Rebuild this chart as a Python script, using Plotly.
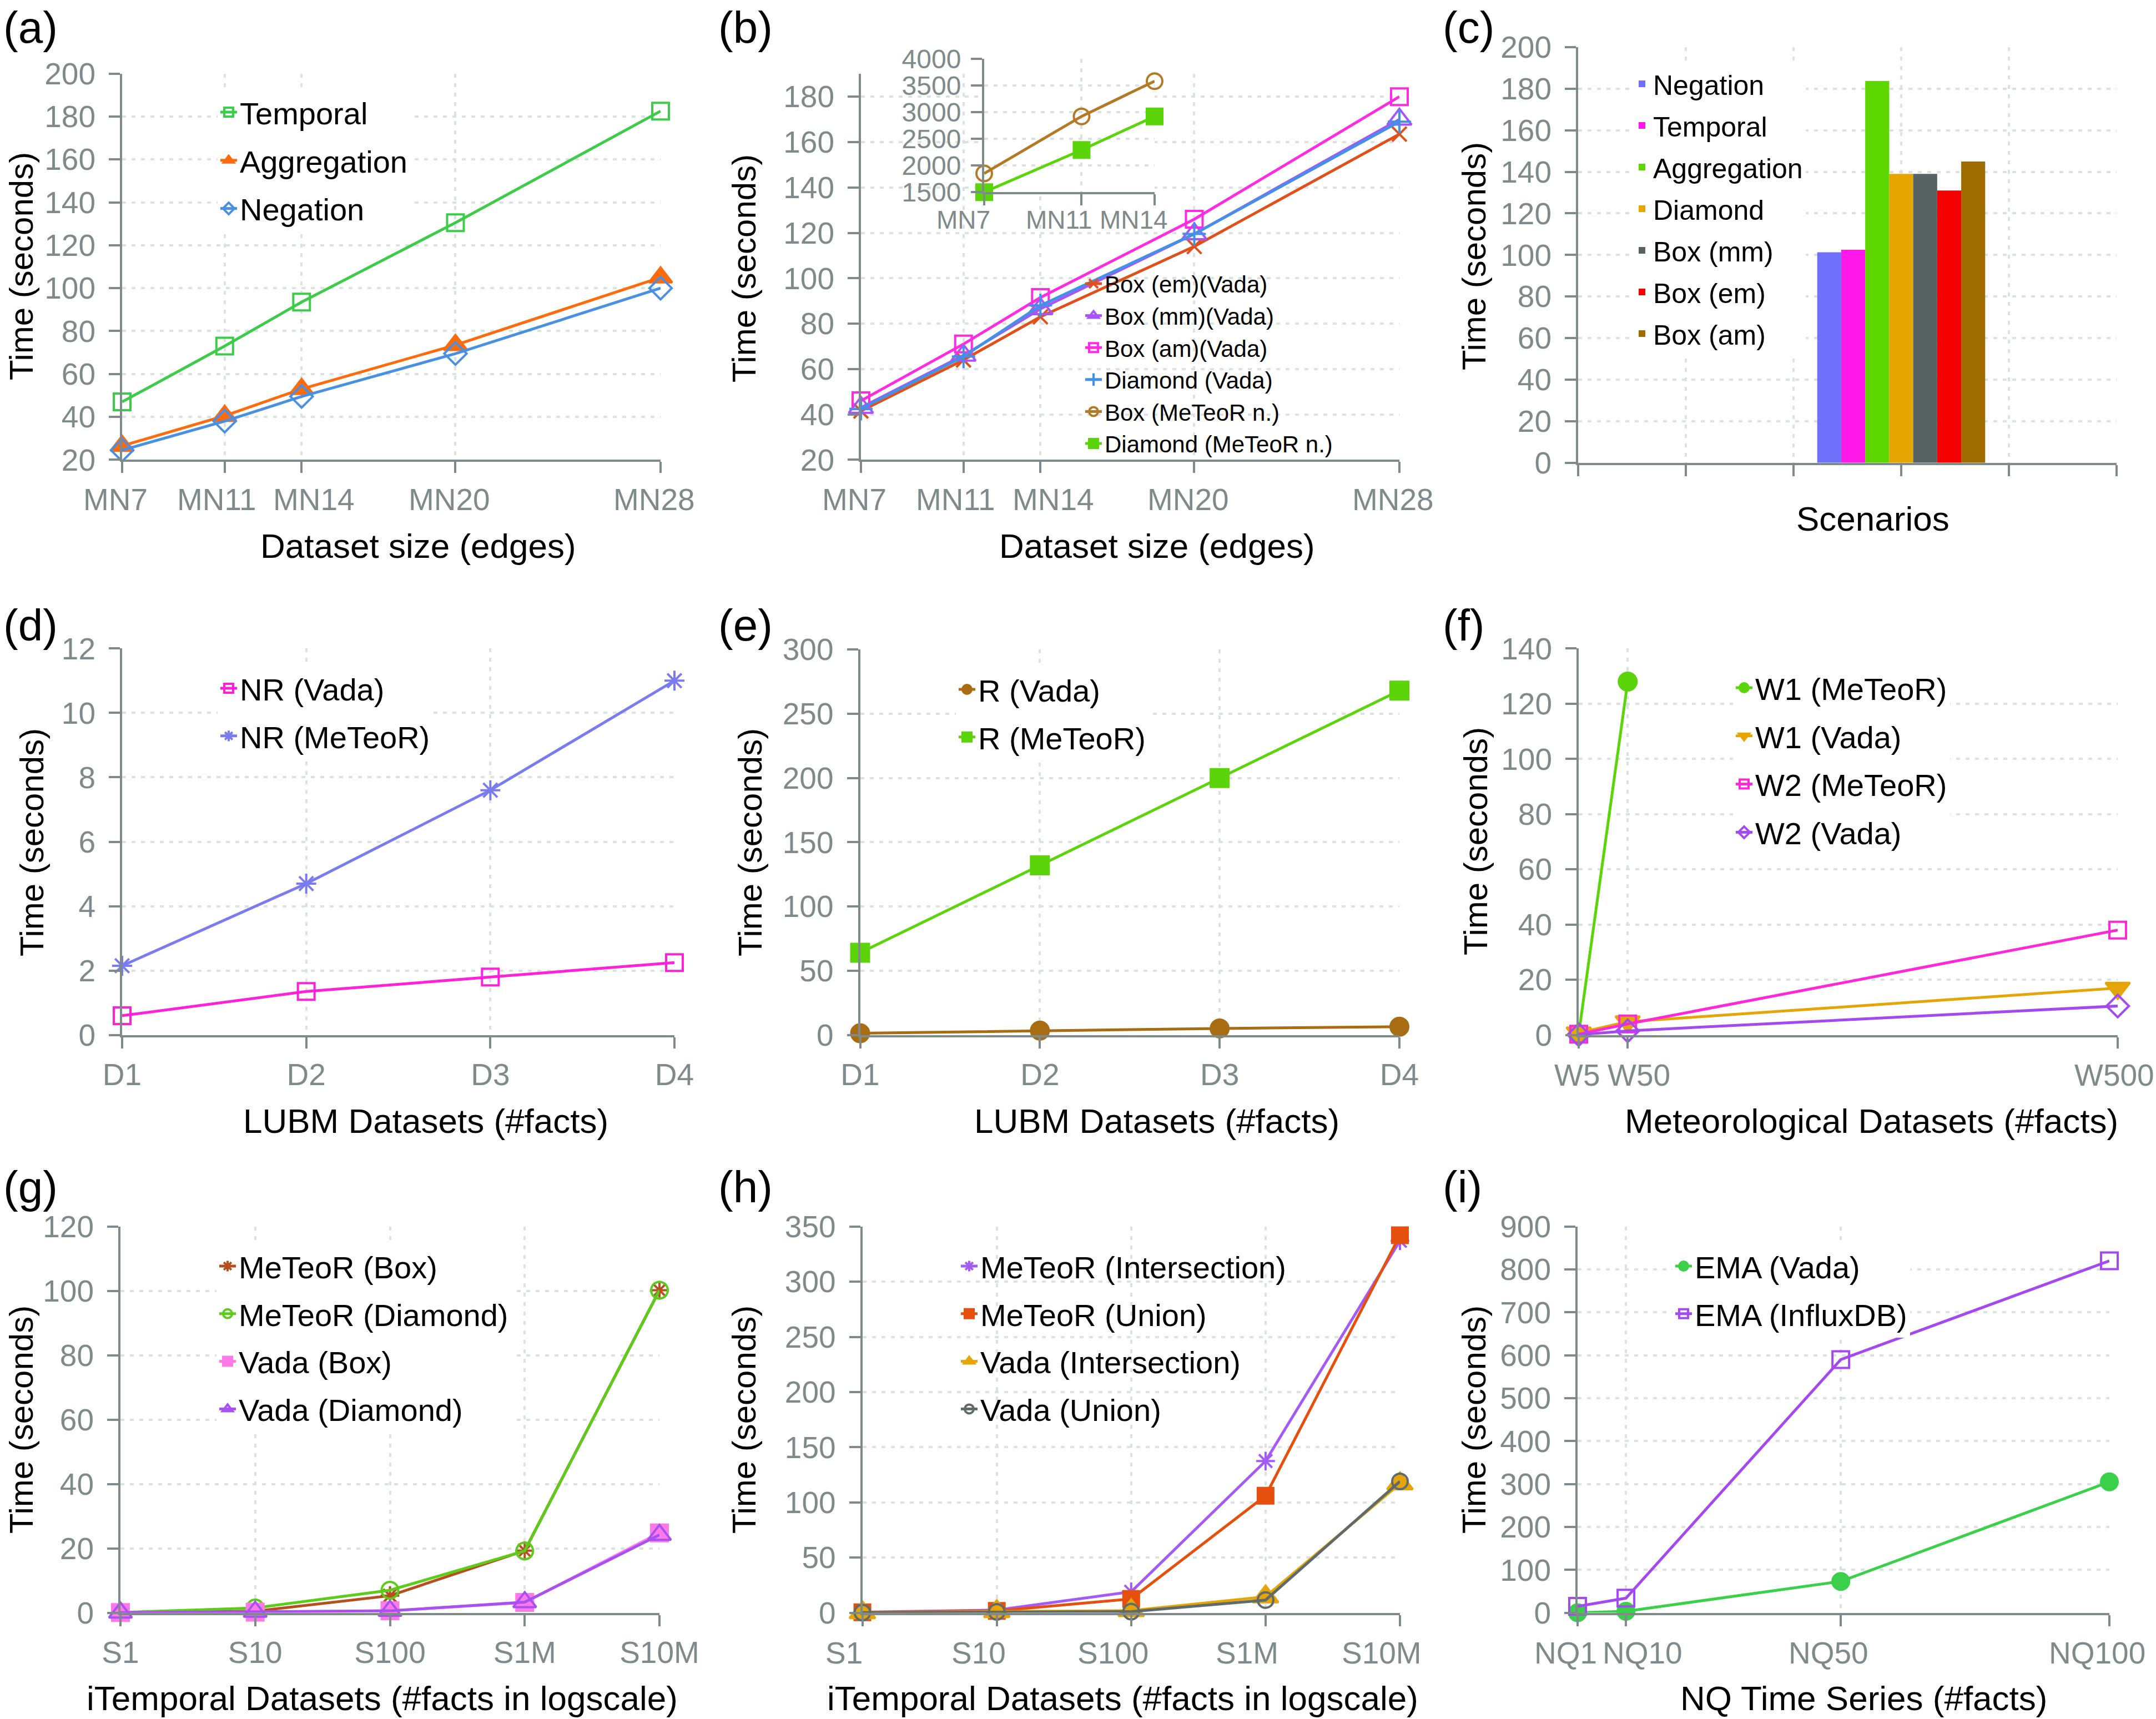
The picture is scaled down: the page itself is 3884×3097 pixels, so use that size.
import plotly.graph_objects as go

# ---------------- data ----------------
# (a)
a_x = [7, 11, 14, 20, 28]
a_xlabels = ["MN7", "MN11", "MN14", "MN20", "MN28"]
a_temporal = [47, 73, 93.5, 130.5, 182.5]
a_aggregation = [26.5, 40.5, 53, 73.5, 105]
a_negation = [24.5, 38, 49.5, 69.5, 100]

# (b)
b_x = [7, 11, 14, 20, 28]
b_xlabels = ["MN7", "MN11", "MN14", "MN20", "MN28"]
b_box_em = [41.5, 64, 83, 114, 163.5]
b_box_mm = [43, 66, 86.5, 119.5, 170]
b_box_am = [46, 71, 91.5, 126, 180]
b_diamond = [42.5, 65.5, 88, 119.5, 169]
inset_x = [7, 11, 14]
inset_xlabels = ["MN7", "MN11", "MN14"]
inset_box_meteor = [1850, 2920, 3580]
inset_diamond_meteor = [1500, 2290, 2920]

# (c)
c_labels = ["Negation", "Temporal", "Aggregation", "Diamond", "Box (mm)", "Box (em)", "Box (am)"]
c_values = [101.3, 102.5, 183.7, 139, 139, 131, 145]

# (d)
d_x = ["D1", "D2", "D3", "D4"]
d_nr_vada = [0.6, 1.35, 1.8, 2.25]
d_nr_meteor = [2.15, 4.7, 7.6, 11.0]

# (e)
e_x = ["D1", "D2", "D3", "D4"]
e_r_vada = [1.4, 3.4, 5.1, 6.5]
e_r_meteor = [64, 132, 200, 268]

# (f)
f_x = [5, 50, 500]
f_xlabels = ["W5", "W50", "W500"]
f_w1_meteor = [0.3, 128]
f_w1_vada = [0.8, 4.8, 17]
f_w2_meteor = [0.3, 4, 38]
f_w2_vada = [0.1, 1.5, 10.5]

# (g)
g_x = ["S1", "S10", "S100", "S1M", "S10M"]
g_meteor_box = [0.1, 0.5, 5.3, 19.3, 100.2]
g_meteor_diamond = [0.1, 1.5, 7, 19.2, 100.2]
g_vada_box = [0.05, 0.2, 0.6, 3.2, 24.8]
g_vada_diamond = [0.05, 0.3, 0.6, 3.3, 24.2]

# (h)
h_x = ["S1", "S10", "S100", "S1M", "S10M"]
h_meteor_inter = [0.5, 2.5, 19, 137.5, 337]
h_meteor_union = [0.4, 1.7, 12.5, 106, 342]
h_vada_inter = [0.2, 1.2, 2, 14.5, 117]
h_vada_union = [0.2, 0.8, 1, 11.5, 119]

# (i)
i_x = [1, 10, 50, 100]
i_xlabels = ["NQ1", "NQ10", "NQ50", "NQ100"]
i_ema_vada = [0, 3.5, 73, 305]
i_ema_influx = [15, 34, 590, 820]

# ---------------- styling ----------------
W, H = 3884, 3097
AXG = "#7F8A8A"
GRID = "#DCE2E2"
FONT = "Liberation Sans, Arial, Helvetica, sans-serif"
TICKFONT = dict(family=FONT, size=55, color=AXG)


def xd(x0, x1):
    return [x0 / W, x1 / W]


def yd(top, bot):
    return [1 - bot / H, 1 - top / H]


def axis(**kw):
    base = dict(showline=True, linecolor=AXG, linewidth=4, ticks="outside", ticklen=20,
                tickwidth=4, tickcolor=AXG, showgrid=True, gridcolor=GRID, gridwidth=4,
                griddash="7px,10px", zeroline=False, mirror=False, automargin=False,
                tickangle=0, layer="above traces", ticklabeloverflow="allow",
                tickfont=TICKFONT)
    base.update(kw)
    return base


fig = go.Figure()


def line(x, y, name, color, symbol, size, ax, leg, width=5, mlw=4):
    fig.add_trace(go.Scatter(
        x=x, y=y, name=name, mode="lines+markers",
        line=dict(color=color, width=width),
        marker=dict(symbol=symbol, size=size, color=color, line=dict(width=mlw, color=color)),
        xaxis="x" + ax, yaxis="y" + ax, legend=leg, legendgroup=name + leg,
        cliponaxis=False))


# (a)
line(a_x, a_temporal, "Temporal", "#3DCC4A", "square-open", 30, "", "legend")
line(a_x, a_aggregation, "Aggregation", "#FF6A0C", "triangle-up", 36, "", "legend")
line(a_x, a_negation, "Negation", "#4A90E2", "diamond-open", 31, "", "legend")

# (b)
line(b_x, b_box_em, "Box (em)(Vada)", "#E2501A", "x-thin", 26, "2", "legend2")
line(b_x, b_box_mm, "Box (mm)(Vada)", "#A855F7", "triangle-up-open", 38, "2", "legend2")
line(b_x, b_box_am, "Box (am)(Vada)", "#FF2BE0", "square-open", 30, "2", "legend2")
line(b_x, b_diamond, "Diamond (Vada)", "#4391E6", "cross-thin", 30, "2", "legend2")
# inset
line(inset_x, inset_box_meteor, "Box (MeTeoR n.)", "#B37A23", "circle-open", 28, "3", "legend2")
line(inset_x, inset_diamond_meteor, "Diamond (MeTeoR n.)", "#5CD40A", "square", 28, "3", "legend2")

# (c)
c_colors = ["#7070FA", "#FF18E8", "#5ED700", "#E6A400", "#576263", "#F50000", "#9F6C00"]
BW = 0.2228
for k, (lab, val) in enumerate(zip(c_labels, c_values)):
    fig.add_trace(go.Bar(x=[0], y=[val], name=lab, width=BW, offset=-3.5 * BW + k * BW,
                         marker=dict(color=c_colors[k], line=dict(width=0)),
                         xaxis="x4", yaxis="y4", legend="legend3", legendgroup=lab + "c"))

# (d)
line(d_x, d_nr_vada, "NR (Vada)", "#FF20DA", "square-open", 30, "5", "legend4")
line(d_x, d_nr_meteor, "NR (MeTeoR)", "#7B7BF0", "asterisk", 30, "5", "legend4")

# (e)
line(e_x, e_r_vada, "R (Vada)", "#A86C12", "circle", 32, "6", "legend5")
line(e_x, e_r_meteor, "R (MeTeoR)", "#5CD40A", "square", 32, "6", "legend5")

# (f)
line(f_x[:len(f_w1_meteor)], f_w1_meteor, "W1 (MeTeoR)", "#5CD40A", "circle", 32, "7", "legend6")
line(f_x, f_w1_vada, "W1 (Vada)", "#E5A506", "triangle-down", 38, "7", "legend6")
line(f_x, f_w2_meteor, "W2 (MeTeoR)", "#FF28D8", "square-open", 30, "7", "legend6")
line(f_x, f_w2_vada, "W2 (Vada)", "#A449F0", "diamond-open", 31, "7", "legend6")

# (g)
line(g_x, g_meteor_box, "MeTeoR (Box)", "#B5501E", "asterisk", 28, "8", "legend7")
line(g_x, g_meteor_diamond, "MeTeoR (Diamond)", "#5CCB1A", "circle-open", 30, "8", "legend7")
line(g_x, g_vada_box, "Vada (Box)", "#FF7AE8", "square", 30, "8", "legend7")
line(g_x, g_vada_diamond, "Vada (Diamond)", "#A752F0", "triangle-up-open", 36, "8", "legend7")

# (h)
line(h_x, h_meteor_inter, "MeTeoR (Intersection)", "#A45AF5", "asterisk", 28, "9", "legend8")
line(h_x, h_meteor_union, "MeTeoR (Union)", "#E5500F", "square", 28, "9", "legend8")
line(h_x, h_vada_inter, "Vada (Intersection)", "#E5A508", "triangle-up", 40, "9", "legend8")
line(h_x, h_vada_union, "Vada (Union)", "#5F6A6A", "circle-open", 28, "9", "legend8")

# (i)
line(i_x, i_ema_vada, "EMA (Vada)", "#3AD04A", "circle", 30, "10", "legend9")
line(i_x, i_ema_influx, "EMA (InfluxDB)", "#A449F0", "square-open", 30, "10", "legend9")

YSO = 13

layout = dict(
    template="none",
    width=W, height=H, margin=dict(l=0, r=0, t=0, b=0, autoexpand=False),
    paper_bgcolor="white", plot_bgcolor="white", barmode="overlay",
    font=dict(family=FONT, color="black"),
    # (a)
    xaxis=axis(domain=xd(220, 1190), range=[7, 28], tickvals=a_x, showticklabels=False, anchor="y"),
    yaxis=axis(domain=yd(132.6, 828.4), range=[20, 200], dtick=20, anchor="x", ticklabelstandoff=YSO),
    # (b)
    xaxis2=axis(domain=xd(1551, 2521), range=[7, 28], tickvals=b_x, showticklabels=False, anchor="y2"),
    yaxis2=axis(domain=yd(133.3, 828.4), range=[20, 190], tickvals=[20, 40, 60, 80, 100, 120, 140, 160, 180],
                anchor="x2", ticklabelstandoff=YSO),
    # inset
    xaxis3=axis(domain=xd(1773, 2080), range=[7, 14], tickvals=inset_x, showticklabels=False, anchor="y3"),
    yaxis3=axis(domain=yd(105.8, 346.2), range=[1500, 4000], dtick=500, anchor="x3",
                tickfont=dict(family=FONT, size=48, color=AXG), ticklabelstandoff=8),
    # (c)
    xaxis4=axis(domain=xd(2843, 3813), range=[-3, 2], dtick=1, tick0=0, showticklabels=False, anchor="y4"),
    yaxis4=axis(domain=yd(85, 833.7), range=[0, 200], dtick=20, anchor="x4", ticklabelstandoff=YSO),
    # (d)
    xaxis5=axis(domain=xd(220, 1215), type="category", range=[0, 3], anchor="y5"),
    yaxis5=axis(domain=yd(1168.3, 1864.7), range=[0, 12], dtick=2, anchor="x5", ticklabelstandoff=YSO),
    # (e)
    xaxis6=axis(domain=xd(1549.5, 2521), type="category", range=[0, 3], anchor="y6"),
    yaxis6=axis(domain=yd(1170.2, 1864.7), range=[0, 300], dtick=50, anchor="x6", ticklabelstandoff=YSO),
    # (f)
    xaxis7=axis(domain=xd(2844, 3815), range=[5, 500], tickvals=f_x, showticklabels=False, anchor="y7"),
    yaxis7=axis(domain=yd(1168.3, 1864.7), range=[0, 140], dtick=20, anchor="x7", ticklabelstandoff=YSO),
    # (g)
    xaxis8=axis(domain=xd(217, 1188), type="category", range=[0, 4], anchor="y8"),
    yaxis8=axis(domain=yd(2209.7, 2905.6), range=[0, 120], dtick=20, anchor="x8", ticklabelstandoff=YSO),
    # (h)
    xaxis9=axis(domain=xd(1553.6, 2522), type="category", range=[0, 4], showticklabels=False, anchor="y9"),
    yaxis9=axis(domain=yd(2209.7, 2905.6), range=[0, 350], dtick=50, anchor="x9", ticklabelstandoff=YSO),
    # (i)
    xaxis10=axis(domain=xd(2842, 3800), range=[1, 100], tickvals=i_x, showticklabels=False, anchor="y10"),
    yaxis10=axis(domain=yd(2209.7, 2905.6), range=[0, 900], dtick=100, anchor="x10", ticklabelstandoff=YSO),
)


def legend_cfg(text_x, row1_y, size, gap, bg="white"):
    h = size * 1.3 + 3
    return dict(x=(text_x - 40) / W, y=1 - (row1_y - 5 - h / 2) / H, xanchor="left", yanchor="top",
                xref="paper", yref="paper", font=dict(family=FONT, size=size, color="black"),
                bgcolor=bg, borderwidth=0, tracegroupgap=gap, traceorder="grouped", itemwidth=30)


layout["legend"] = legend_cfg(432, 202, 56, 11)
layout["legend2"] = legend_cfg(1990, 511, 42, 0, bg="rgba(0,0,0,0)")
layout["legend3"] = legend_cfg(2978, 151, 50, 7)
layout["legend4"] = legend_cfg(432, 1240, 56, 10)
layout["legend5"] = legend_cfg(1762, 1242, 56, 10)
layout["legend6"] = legend_cfg(3162, 1239, 56, 11)
layout["legend7"] = legend_cfg(430, 2281, 56, 10)
layout["legend8"] = legend_cfg(1766, 2281, 56, 10, bg="rgba(0,0,0,0)")
layout["legend9"] = legend_cfg(3053, 2281, 56, 10)

fig.update_layout(**layout)

# white backdrop behind the inset (drawn in the inset subplot, above panel (b))
fig.add_shape(type="rect", xref="x3 domain", yref="y3 domain", x0=-0.674, x1=1.098, y0=-0.28, y1=1.03,
              fillcolor="white", line=dict(width=0), layer="below")

ann = []

# x tick labels drawn as annotations at the tick values (gnuplot-like individual label offsets)
def tick_labels(ax, vals, labels, shifts, yshift, font=TICKFONT):
    for v, lab, s in zip(vals, labels, shifts):
        ann.append(dict(text=lab, xref="x" + ax, x=v, yref="y" + ax + " domain", y=0,
                        xanchor="center", yanchor="middle", xshift=s, yshift=yshift,
                        showarrow=False, font=font))


tick_labels("", a_x, a_xlabels, [-12, -14, 22, -11, -12], -72)
tick_labels("2", b_x, b_xlabels, [-12, -14, 23, -11, -12], -72)
tick_labels("3", inset_x, inset_xlabels, [-38, -41, -38], -50, dict(family=FONT, size=46, color=AXG))
tick_labels("7", f_x, f_xlabels, [-3, 20, -6], -72)
tick_labels("9", h_x, h_x, [-33, -33, -33, -33, -33], -72)
tick_labels("10", i_x, i_xlabels, [-22, 30, -22, -22], -72)

# panel labels
for lab, x, y in [("(a)", 4, 50), ("(b)", 1292, 50), ("(c)", 2597, 50),
                  ("(d)", 4, 1126), ("(e)", 1292, 1126), ("(f)", 2597, 1126),
                  ("(g)", 4, 2138), ("(h)", 1292, 2138), ("(i)", 2597, 2138)]:
    ann.append(dict(text=lab, x=x / W, y=1 - y / H, xref="paper", yref="paper", xanchor="left",
                    yanchor="middle", showarrow=False, font=dict(family=FONT, size=80, color="black")))
# x titles
for t, x, y in [("Dataset size (edges)", 753, 984), ("Dataset size (edges)", 2084, 984),
                ("Scenarios", 3374, 934), ("LUBM Datasets (#facts)", 767, 2019),
                ("LUBM Datasets (#facts)", 2084, 2019), ("Meteorological Datasets (#facts)", 3371, 2019),
                ("iTemporal Datasets (#facts in logscale)", 688, 3059),
                ("iTemporal Datasets (#facts in logscale)", 2022, 3059),
                ("NQ Time Series (#facts)", 3357, 3059)]:
    ann.append(dict(text=t, x=x / W, y=1 - y / H, xref="paper", yref="paper", xanchor="center",
                    yanchor="middle", showarrow=False, font=dict(family=FONT, size=62, color="black")))
# y titles
for x, y in [(38, 480), (1340, 484), (2655, 462), (58, 1518), (1352, 1518), (2658, 1516),
             (38, 2558), (1340, 2558), (2655, 2558)]:
    ann.append(dict(text="Time (seconds)", x=x / W, y=1 - y / H, xref="paper", yref="paper",
                    xanchor="center", yanchor="middle", textangle=-90, showarrow=False,
                    font=dict(family=FONT, size=60, color="black")))
fig.update_layout(annotations=ann)

fig.write_html("out.html", config={"displayModeBar": False},
               post_script="document.body.style.margin='0px';document.body.style.overflow='hidden';")
